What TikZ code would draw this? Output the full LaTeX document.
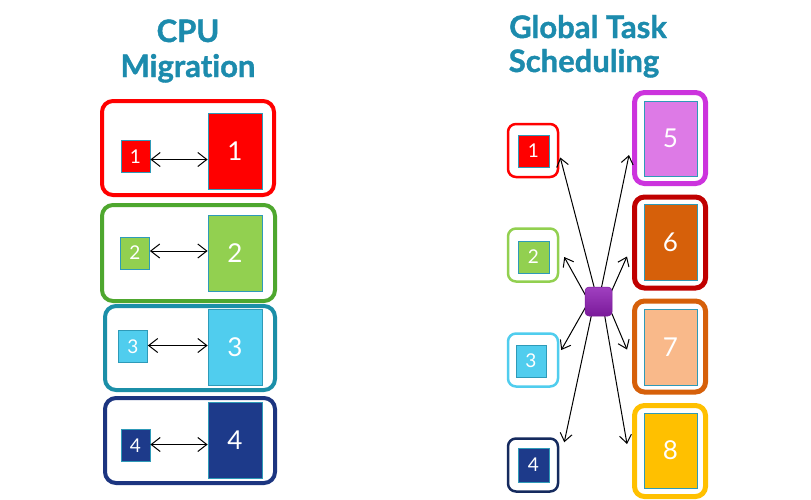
\documentclass[tikz,border=0pt]{standalone}
\usepackage{fontspec}
\setmainfont{Lato}[Ligatures=NoCommon]
\newfontfamily\titlefont{Lato}[Ligatures=NoCommon, UprightFeatures={FakeBold=1.2}, BoldFeatures={FakeBold=1.2}]
\usetikzlibrary{arrows.meta}
\definecolor{titleblue}{HTML}{1C8BAD}
\definecolor{edgeteal}{HTML}{2E9AB8}
\definecolor{cred}{HTML}{FF0000}
\definecolor{cgreenline}{HTML}{4EA72E}
\definecolor{cgreen}{HTML}{92D050}
\definecolor{ctealline}{HTML}{1B8FA8}
\definecolor{clblue}{HTML}{50CDEE}
\definecolor{cnavyline}{HTML}{1C3580}
\definecolor{cnavy}{HTML}{1D3A8A}
\definecolor{cnavydark}{HTML}{152A5E}
\definecolor{cmagline}{HTML}{CC33DD}
\definecolor{cmag}{HTML}{DD7AE6}
\definecolor{cdred}{HTML}{C00000}
\definecolor{corange}{HTML}{D6600A}
\definecolor{cpeach}{HTML}{F9B98A}
\definecolor{cgold}{HTML}{FFC000}
\definecolor{cpurple}{HTML}{7A1A9A}
\definecolor{cpurplelight}{HTML}{A040C0}
\tikzset{
  x=1pt, y=-1pt,
  title/.style={font=\titlefont\bfseries\fontsize{31}{31}\selectfont, text=titleblue, inner sep=0, anchor=base},
  outerbox/.style={draw=#1, line width=4pt, rounded corners=11pt, fill=white, inner sep=0},
  rsmall/.style={draw=#1, line width=2.5pt, rounded corners=8pt, fill=white, minimum width=50pt, minimum height=53pt, inner sep=0},
  rbig/.style={draw=#1, line width=5pt, rounded corners=10pt, fill=white, minimum width=71pt, minimum height=91pt, inner sep=0},
  smallsq/.style={draw=edgeteal, line width=0.8pt, fill=#1, minimum width=29pt, minimum height=32pt, inner sep=0, text=white, font=\fontsize{19}{19}\selectfont},
  bigrect/.style={draw=edgeteal, line width=0.8pt, fill=#1, minimum width=54pt, minimum height=76pt, inner sep=0, text=white, font=\fontsize{26}{26}\selectfont},
  dblarr/.style={{Straight Barb[length=9pt,width=14pt]}-{Straight Barb[length=9pt,width=14pt]}, line width=1pt, black},
  arr/.style={-{Straight Barb[length=8pt,width=12pt]}, line width=1pt, black},
  hubstyle/.style={rounded corners=4pt, minimum width=27pt, minimum height=29pt, inner sep=0, top color=cpurplelight, bottom color=cpurple, draw=cpurple, line width=0.5pt}
}
\begin{document}
\begin{tikzpicture}
\useasboundingbox[fill=white] (0,0) rectangle (811,499);
% titles
\node[title] (t1) at (188,42) {CPU};
\node[title] (t2) at (188,77) {Migration};
\node[title] (t3) at (588,38) {Global Task};
\node[title] (t4) at (584,72) {Scheduling};
% left outer boxes
\node[outerbox=cred, minimum width=172pt, minimum height=94pt] (L1) at (188,148) {};
\node[outerbox=cgreenline, minimum width=173pt, minimum height=96pt] (L2) at (188.5,253) {};
\node[outerbox=ctealline, minimum width=170pt, minimum height=84pt] (L3) at (190,348) {};
\node[outerbox=cnavyline, minimum width=170pt, minimum height=85pt] (L4) at (190,440.5) {};
% small squares
\node[smallsq=cred] (s1) at (135.5,156.5) {1};
\node[smallsq=cgreen] (s2) at (135,253) {2};
\node[smallsq=clblue] (s3) at (133,346.5) {3};
\node[smallsq=cnavy] (s4) at (135.5,445.5) {4};
% big rects
\node[bigrect=cred] (b1) at (235,151.5) {1};
\node[bigrect=cgreen] (b2) at (235,253.5) {2};
\node[bigrect=clblue] (b3) at (235,347.5) {3};
\node[bigrect=cnavy] (b4) at (235,440.5) {4};
% double arrows
\draw[dblarr] ([yshift=-3pt]s1.east) -- ([yshift=-3pt]s1.east -| b1.west);
\draw[dblarr] ([yshift=2pt]s2.east) -- ([yshift=2pt]s2.east -| b2.west);
\draw[dblarr] ([yshift=1pt]s3.east) -- ([yshift=1pt]s3.east -| b3.west);
\draw[dblarr] ([yshift=1pt]s4.east) -- ([yshift=1pt]s4.east -| b4.west);
% right small boxes
\node[rsmall=cred] (r1) at (533,150.5) {};
\node[rsmall=cgreen] (r2) at (533,255) {};
\node[rsmall=clblue] (r3) at (533,360) {};
\node[rsmall=cnavydark] (r4) at (533,465) {};
\node[smallsq=cred, minimum width=31pt] (q1) at (533.5,151) {1};
\node[smallsq=cgreen, minimum width=31pt] (q2) at (533.5,257) {2};
\node[smallsq=clblue, minimum width=30pt] (q3) at (531,361) {3};
\node[smallsq=cnavy, minimum width=31pt, minimum height=34pt] (q4) at (533.5,465) {4};
% right big boxes
\node[rbig=cmagline] (R5) at (670,138) {};
\node[rbig=cdred] (R6) at (670,242.5) {};
\node[rbig=corange] (R7) at (670,346.5) {};
\node[rbig=cgold] (R8) at (670,451) {};
\node[bigrect=cmag, minimum width=53pt, minimum height=75pt] (p5) at (670.5,138.5) {5};
\node[bigrect=corange, minimum width=53pt] (p6) at (670.5,242) {6};
\node[bigrect=cpeach, minimum width=53pt] (p7) at (670.5,347) {7};
\node[bigrect=cgold, minimum width=53pt, minimum height=75pt] (p8) at (670.5,450.5) {8};
% hub arrows
\coordinate (hc) at (598.5,301.5);
\draw[arr] ([xshift=2pt,yshift=-10pt]hc) -- ([xshift=1pt,yshift=-7pt]r1.east);
\draw[arr] ([xshift=-2pt,yshift=-10pt]hc) -- ([xshift=-3pt,yshift=-17pt]R5.west);
\draw[arr] ([xshift=-4pt,yshift=-10pt]hc) -- ([xshift=5pt,yshift=-2pt]r2.east);
\draw[arr] ([xshift=4pt,yshift=-10pt]hc) -- ([xshift=-5pt,yshift=-14pt]R6.west);
\draw[arr] ([xshift=-4pt,yshift=10pt]hc) -- ([xshift=2pt,yshift=10pt]r3.east);
\draw[arr] ([xshift=4pt,yshift=10pt]hc) -- ([xshift=-5pt,yshift=-3pt]R7.west);
\draw[arr] ([xshift=-2pt,yshift=10pt]hc) -- ([xshift=5pt,yshift=-5pt]r4.north east);
\draw[arr] ([xshift=2pt,yshift=10pt]hc) -- ([xshift=-5pt,yshift=7pt]R8.west);
\node[hubstyle] (hub) at (hc) {};
\end{tikzpicture}
\end{document}
